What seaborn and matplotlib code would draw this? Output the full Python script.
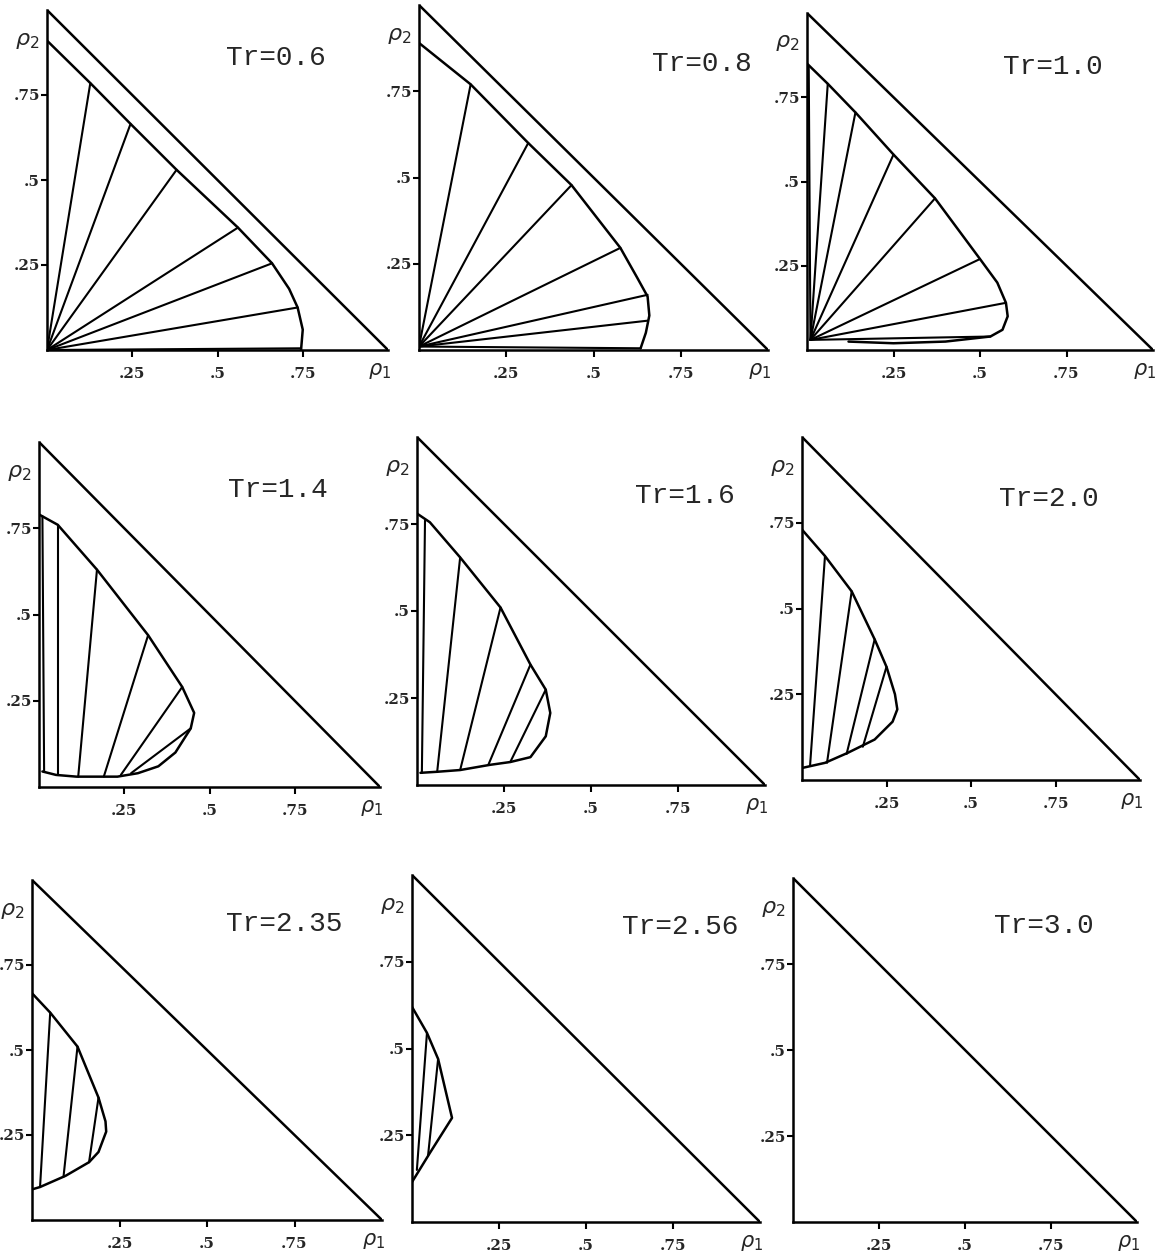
import numpy as np
import pandas as pd
import matplotlib
matplotlib.use("Agg")
import matplotlib.pyplot as plt
import seaborn as sns

# Reduced temperatures of the nine panels
tr_labels = ["Tr=0.6", "Tr=0.8", "Tr=1.0",
             "Tr=1.4", "Tr=1.6", "Tr=2.0",
             "Tr=2.35", "Tr=2.56", "Tr=3.0"]

# Coexistence (binodal) curves, rho1 / rho2 pairs
binodal_x = [
    [0.0, 0.127, 0.245, 0.38, 0.56, 0.66, 0.71, 0.735, 0.75, 0.745],
    [0.0, 0.148, 0.313, 0.437, 0.577, 0.625, 0.655, 0.66, 0.65, 0.635],
    [0.0, 0.06, 0.14, 0.25, 0.37, 0.50, 0.55, 0.575, 0.58, 0.565, 0.53, 0.40, 0.25, 0.12],
    [0.0, 0.055, 0.17, 0.32, 0.42, 0.455, 0.445, 0.40, 0.35, 0.29, 0.23, 0.11, 0.05, 0.01],
    [0.0, 0.037, 0.124, 0.24, 0.326, 0.37, 0.383, 0.37, 0.326, 0.268, 0.21, 0.124, 0.058, 0.01],
    [0.0, 0.068, 0.147, 0.215, 0.25, 0.275, 0.282, 0.268, 0.215, 0.135, 0.068, 0.0],
    [0.0, 0.052, 0.13, 0.19, 0.21, 0.212, 0.19, 0.163, 0.096, 0.023, 0.0],
    [0.0, 0.043, 0.075, 0.115, 0.052, 0.003, 0.0],
    [],
]
binodal_y = [
    [0.91, 0.785, 0.665, 0.53, 0.36, 0.255, 0.18, 0.125, 0.06, 0.0],
    [0.89, 0.77, 0.60, 0.478, 0.296, 0.21, 0.155, 0.10, 0.05, 0.005],
    [0.85, 0.79, 0.705, 0.58, 0.45, 0.27, 0.20, 0.14, 0.10, 0.06, 0.04, 0.025, 0.02, 0.025],
    [0.79, 0.76, 0.63, 0.44, 0.29, 0.215, 0.17, 0.10, 0.06, 0.04, 0.03, 0.03, 0.035, 0.045],
    [0.78, 0.755, 0.654, 0.51, 0.346, 0.274, 0.207, 0.14, 0.08, 0.066, 0.058, 0.043, 0.038, 0.035],
    [0.73, 0.653, 0.55, 0.41, 0.33, 0.25, 0.206, 0.17, 0.118, 0.079, 0.05, 0.035],
    [0.667, 0.61, 0.51, 0.36, 0.29, 0.26, 0.20, 0.17, 0.13, 0.097, 0.09],
    [0.62, 0.545, 0.47, 0.30, 0.20, 0.12, 0.115],
    [],
]

# Tie lines: liquid-side end (lo) and vapour-side end (hi)
tie_lo_x = [
    [0.0] * 7,
    [0.0] * 7,
    [0.01] * 8,
    [0.015, 0.055, 0.115, 0.19, 0.24, 0.27],
    [0.014, 0.058, 0.124, 0.205, 0.268],
    [0.024, 0.074, 0.132, 0.18],
    [0.023, 0.09, 0.163],
    [0.014, 0.046],
    [],
]
tie_lo_y = [
    [0.0] * 7,
    [0.01] * 7,
    [0.03] * 8,
    [0.045, 0.035, 0.03, 0.03, 0.035, 0.04],
    [0.035, 0.038, 0.043, 0.058, 0.066],
    [0.044, 0.05, 0.076, 0.097],
    [0.097, 0.127, 0.17],
    [0.15, 0.19],
    [],
]
tie_hi_x = [
    [0.127, 0.245, 0.38, 0.56, 0.66, 0.735, 0.745],
    [0.148, 0.313, 0.437, 0.577, 0.655, 0.655, 0.635],
    [0.005, 0.06, 0.14, 0.25, 0.37, 0.50, 0.575, 0.53],
    [0.01, 0.055, 0.17, 0.32, 0.42, 0.445],
    [0.023, 0.124, 0.24, 0.326, 0.37],
    [0.068, 0.147, 0.215, 0.25],
    [0.052, 0.13, 0.19],
    [0.043, 0.075],
    [],
]
tie_hi_y = [
    [0.785, 0.665, 0.53, 0.36, 0.255, 0.125, 0.005],
    [0.77, 0.60, 0.478, 0.296, 0.16, 0.085, 0.005],
    [0.84, 0.79, 0.705, 0.58, 0.45, 0.27, 0.14, 0.04],
    [0.785, 0.76, 0.63, 0.44, 0.29, 0.17],
    [0.76, 0.654, 0.51, 0.346, 0.274],
    [0.653, 0.55, 0.41, 0.33],
    [0.61, 0.51, 0.36],
    [0.545, 0.47],
    [],
]

tick_vals = [0.25, 0.5, 0.75]
tick_text = [".25", ".5", ".75"]

# Title anchor (rho1, rho2) inside each triangle
title_x = [0.67, 0.81, 0.71, 0.70, 0.77, 0.73, 0.72, 0.77, 0.73]
title_y = [0.86, 0.83, 0.84, 0.86, 0.83, 0.82, 0.87, 0.85, 0.86]

# Panel frames in pixels: origin (x, y from top), width, height
frames = [
    (47, 350, 341, 340), (419, 350, 349, 345), (807, 350, 346, 337),
    (39, 787, 341, 345), (417, 785, 348, 348), (802, 780, 338, 343),
    (32, 1220, 350, 340), (412, 1222, 348, 347), (793, 1222, 344, 344),
]

sns.set_theme(style="white")
W, H = 1163, 1258
fig = plt.figure(figsize=(W / 100, H / 100), dpi=100)
fig.patch.set_facecolor("white")

LW = 1.8
for i in range(9):
    x0, y0, w, h = frames[i]
    ax = fig.add_axes([x0 / W, (H - y0) / H, w / W, h / H])
    ax.set_facecolor("white")
    ax.set_xlim(0, 1)
    ax.set_ylim(0, 1)
    for side in ("top", "right"):
        ax.spines[side].set_visible(False)
    for side in ("left", "bottom"):
        ax.spines[side].set_linewidth(LW)
        ax.spines[side].set_color("black")

    # hypotenuse rho1 + rho2 = 1
    tri = pd.DataFrame({"rho1": [0.0, 1.0], "rho2": [1.0, 0.0]})
    sns.lineplot(data=tri, x="rho1", y="rho2", ax=ax, color="black",
                 lw=LW, sort=False, estimator=None)

    if binodal_x[i]:
        cur = pd.DataFrame({"rho1": binodal_x[i], "rho2": binodal_y[i]})
        sns.lineplot(data=cur, x="rho1", y="rho2", ax=ax, color="black",
                     lw=LW, sort=False, estimator=None)

    if tie_lo_x[i]:
        rows = []
        for k in range(len(tie_lo_x[i])):
            rows.append((k, tie_lo_x[i][k], tie_lo_y[i][k]))
            rows.append((k, tie_hi_x[i][k], tie_hi_y[i][k]))
        ties = pd.DataFrame(rows, columns=["tie", "rho1", "rho2"])
        sns.lineplot(data=ties, x="rho1", y="rho2", units="tie", ax=ax,
                     color="black", lw=1.5, sort=False, estimator=None)

    ax.set_xticks(tick_vals)
    ax.set_xticklabels(tick_text, fontsize=11, fontweight="bold",
                       family="DejaVu Serif")
    ax.set_yticks(tick_vals)
    ax.set_yticklabels(tick_text, fontsize=11, fontweight="bold",
                       family="DejaVu Serif")
    ax.tick_params(axis="x", direction="out", length=5, width=1.5,
                   color="black", pad=7, bottom=True)
    ax.tick_params(axis="y", direction="out", length=4, width=1.5,
                   color="black", pad=1, left=True)
    ax.set_xlabel("")
    ax.set_ylabel("")

    ax.annotate(r"$\rho_1$", xy=(0.975, 0), xycoords="data",
                xytext=(0, -15), textcoords="offset points",
                fontsize=15, ha="center", va="center", annotation_clip=False)
    ax.annotate(r"$\rho_2$", xy=(0, 0.91), xycoords="data",
                xytext=(-14, 0), textcoords="offset points",
                fontsize=16, ha="center", va="center", annotation_clip=False)

    ax.text(title_x[i], title_y[i], tr_labels[i], fontsize=20,
            family="Liberation Mono", ha="center", va="center")

fig.savefig("out.png", dpi=100, facecolor="white")
